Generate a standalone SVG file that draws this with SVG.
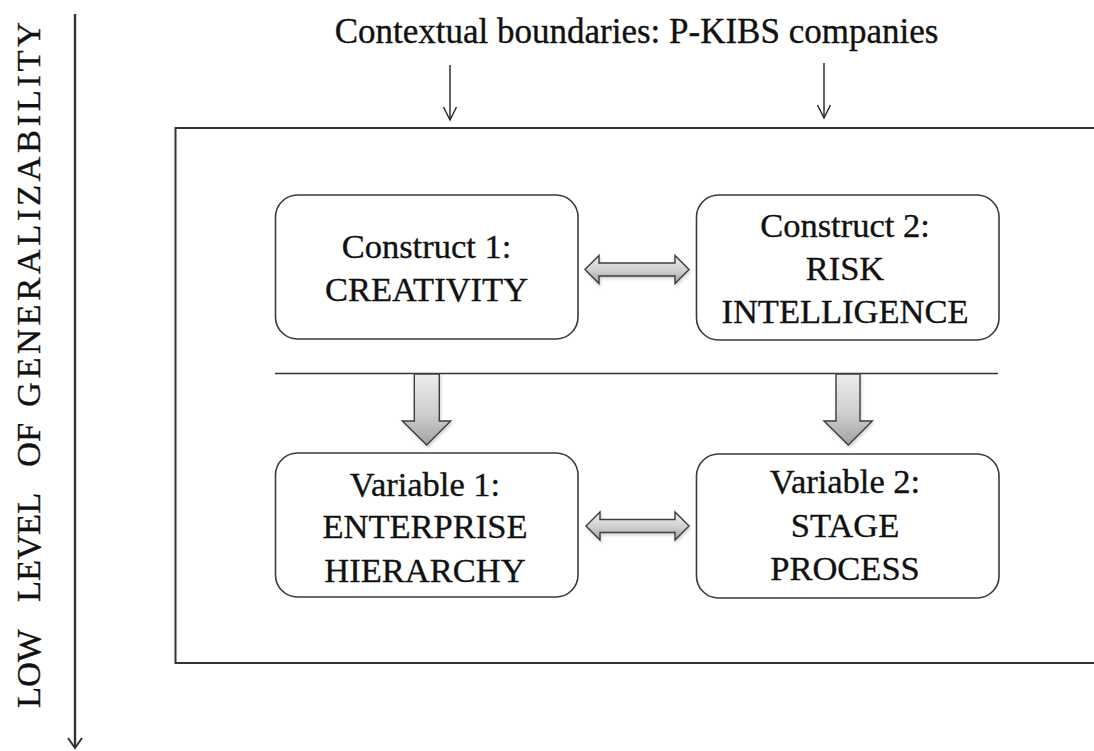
<svg xmlns="http://www.w3.org/2000/svg" width="1094" height="751" viewBox="0 0 1094 751">
  <style>
    text { font-family: "Liberation Serif", "Times New Roman", serif; fill: #111111; stroke: #111111; stroke-width: 0.35; }
    .lbl { font-size: 34.5px; text-anchor: middle; }
    .title { font-size: 35px; text-anchor: middle; }
    .axis { font-size: 34.5px; }
    .box { fill: #ffffff; stroke: #3a3a3a; stroke-width: 1.6; }
    .frame { fill: none; stroke: #333333; stroke-width: 2; }
    .rule { stroke: #333333; stroke-width: 1.6; fill: none; }
    .thin { stroke: #222222; stroke-width: 1.4; fill: none; }
    .block { stroke: #3c3c3c; stroke-width: 1.4; stroke-linejoin: miter; }
  </style>
  <defs>
    <linearGradient id="gradH" x1="0" y1="0" x2="0" y2="1">
      <stop offset="0" stop-color="#eeeeee"/>
      <stop offset="0.5" stop-color="#d2d2d2"/>
      <stop offset="1" stop-color="#a4a4a4"/>
    </linearGradient>
    <linearGradient id="gradV" x1="0" y1="0" x2="0" y2="1">
      <stop offset="0" stop-color="#ececec"/>
      <stop offset="0.55" stop-color="#cfcfcf"/>
      <stop offset="1" stop-color="#a2a2a2"/>
    </linearGradient>
    <filter id="soft" x="-20%" y="-20%" width="140%" height="140%">
      <feDropShadow dx="1" dy="2" stdDeviation="1.5" flood-color="#000000" flood-opacity="0.18"/>
    </filter>
  </defs>

  <rect x="0" y="0" width="1094" height="751" fill="#ffffff"/>

  <!-- vertical axis with its caption -->
  <g id="axis">
    <text class="axis" transform="translate(40,708) rotate(-90)">
      <tspan x="0" y="0">LOW</tspan>
      <tspan x="106" y="0">LEVEL</tspan>
      <tspan x="241" y="0">OF</tspan>
      <tspan x="301" y="0" textLength="385" lengthAdjust="spacing">GENERALIZABILITY</tspan>
    </text>
    <line x1="75" y1="14" x2="75" y2="747" stroke="#333333" stroke-width="2.4"/>
    <polyline points="68,738 75,748 82,738" fill="none" stroke="#333333" stroke-width="2"/>
  </g>

  <!-- heading -->
  <g id="context-title">
    <text class="title" x="636.5" y="43">Contextual boundaries: P-KIBS companies</text>
  </g>

  <!-- outer frame (runs past the right edge) and divider -->
  <g id="frame">
    <rect class="frame" x="175.5" y="128" width="940" height="535"/>
    <line class="rule" x1="275" y1="373.5" x2="998" y2="373.5"/>
  </g>

  <g id="construct1">
    <rect class="box" x="275.5" y="195" width="302.5" height="144" rx="22" ry="22"/>
    <text class="lbl" x="426.5" y="258">Construct 1:</text>
    <text class="lbl" x="426.5" y="300.7">CREATIVITY</text>
  </g>

  <g id="construct2">
    <rect class="box" x="696.5" y="195" width="302.5" height="145" rx="22" ry="22"/>
    <text class="lbl" x="845" y="236.7">Construct 2:</text>
    <text class="lbl" x="845" y="280">RISK</text>
    <text class="lbl" x="845" y="322.7">INTELLIGENCE</text>
  </g>

  <g id="variable1">
    <rect class="box" x="275.5" y="453" width="302.5" height="144" rx="22" ry="22"/>
    <text class="lbl" x="425" y="495.7">Variable 1:</text>
    <text class="lbl" x="425" y="538.3">ENTERPRISE</text>
    <text class="lbl" x="425" y="581.7">HIERARCHY</text>
  </g>

  <g id="variable2">
    <rect class="box" x="696.5" y="454" width="302.5" height="144" rx="22" ry="22"/>
    <text class="lbl" x="845" y="493.3">Variable 2:</text>
    <text class="lbl" x="845" y="536.7">STAGE</text>
    <text class="lbl" x="845" y="580">PROCESS</text>
  </g>

  <g id="connectors">
    <!-- thin pointers from the heading into the frame -->
    <line class="thin" x1="450" y1="65" x2="450" y2="120"/>
    <polyline class="thin" points="443.5,107 450,120 456.5,107"/>
    <line class="thin" x1="824" y1="63" x2="824" y2="118"/>
    <polyline class="thin" points="817.5,105 824,118 830.5,105"/>

    <!-- two-way block arrows between paired boxes -->
    <path class="block" fill="url(#gradH)" filter="url(#soft)"
          d="M585,269.5 L599,255.5 L599,263 L675,263 L675,255.5 L689,269.5 L675,283.5 L675,276 L599,276 L599,283.5 Z"/>
    <path class="block" fill="url(#gradH)" filter="url(#soft)"
          d="M586,526 L600,512 L600,519.5 L675,519.5 L675,512 L689,526 L675,540 L675,532.5 L600,532.5 L600,540 Z"/>

    <!-- downward block arrows from constructs to variables -->
    <path class="block" fill="url(#gradV)" filter="url(#soft)"
          d="M414.3,374 L439.3,374 L439.3,421 L450.7,421 L426.7,445 L402.3,421 L414.3,421 Z"/>
    <path class="block" fill="url(#gradV)" filter="url(#soft)"
          d="M836,374 L860,374 L860,421 L872.3,421 L848.3,445 L824,421 L836,421 Z"/>
  </g>
</svg>
